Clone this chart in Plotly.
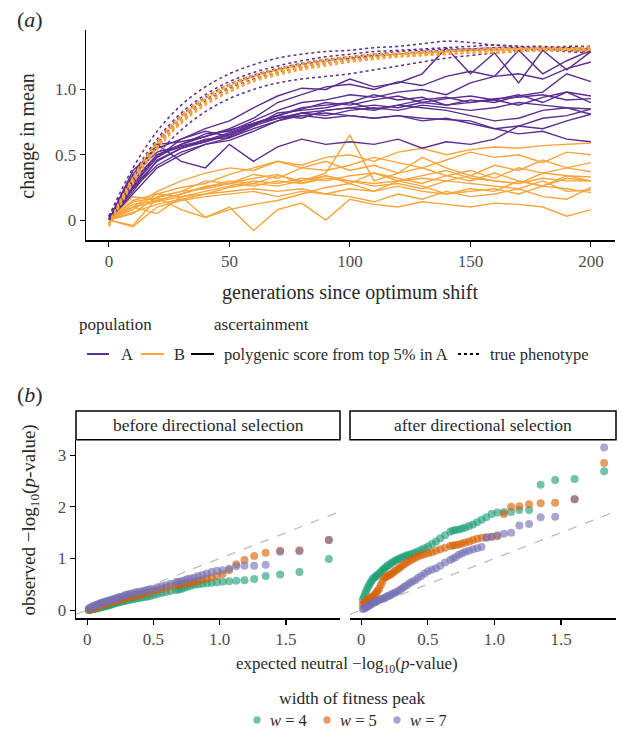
import plotly.graph_objects as go

# ---------------- panel (a) data ----------------
gens = [0, 10, 20, 30, 40, 50, 60, 70, 80, 90, 100, 110, 120, 130, 140, 150, 160, 170, 180, 190, 200]

# true phenotype, population A (dotted purple)
pheno_A = [
    [0.03, 0.40, 0.68, 0.88, 1.02, 1.12, 1.19, 1.24, 1.27, 1.29, 1.30, 1.32, 1.33, 1.35, 1.37, 1.36, 1.34, 1.33, 1.33, 1.32, 1.32],
    [0.03, 0.35, 0.62, 0.82, 0.96, 1.06, 1.13, 1.18, 1.22, 1.25, 1.27, 1.29, 1.30, 1.31, 1.32, 1.33, 1.34, 1.33, 1.32, 1.33, 1.33],
    [0.02, 0.30, 0.56, 0.76, 0.91, 1.01, 1.08, 1.13, 1.17, 1.20, 1.23, 1.25, 1.27, 1.28, 1.29, 1.30, 1.30, 1.31, 1.30, 1.31, 1.30],
    [0.01, 0.26, 0.50, 0.69, 0.83, 0.93, 1.00, 1.05, 1.08, 1.10, 1.12, 1.15, 1.18, 1.21, 1.24, 1.26, 1.28, 1.29, 1.30, 1.29, 1.28],
    [0.02, 0.33, 0.60, 0.80, 0.94, 1.04, 1.11, 1.16, 1.20, 1.23, 1.25, 1.27, 1.29, 1.30, 1.31, 1.31, 1.32, 1.32, 1.31, 1.30, 1.29],
    [0.03, 0.31, 0.58, 0.78, 0.92, 1.02, 1.10, 1.15, 1.19, 1.22, 1.24, 1.26, 1.27, 1.29, 1.30, 1.31, 1.31, 1.30, 1.31, 1.32, 1.31],
]
# true phenotype, population B (dotted orange)
pheno_B = [
    [-0.04, 0.32, 0.59, 0.79, 0.93, 1.03, 1.10, 1.15, 1.19, 1.22, 1.24, 1.26, 1.27, 1.28, 1.29, 1.30, 1.31, 1.31, 1.32, 1.32, 1.31],
    [-0.03, 0.30, 0.56, 0.76, 0.90, 1.00, 1.07, 1.13, 1.17, 1.20, 1.22, 1.24, 1.26, 1.27, 1.28, 1.29, 1.30, 1.31, 1.31, 1.31, 1.32],
    [-0.05, 0.28, 0.54, 0.74, 0.88, 0.98, 1.06, 1.11, 1.15, 1.18, 1.21, 1.23, 1.25, 1.26, 1.27, 1.28, 1.29, 1.30, 1.30, 1.30, 1.30],
    [-0.03, 0.31, 0.57, 0.78, 0.92, 1.02, 1.09, 1.14, 1.18, 1.21, 1.23, 1.25, 1.27, 1.28, 1.29, 1.31, 1.32, 1.32, 1.31, 1.30, 1.29],
    [-0.04, 0.29, 0.55, 0.75, 0.89, 0.99, 1.07, 1.12, 1.16, 1.19, 1.22, 1.24, 1.25, 1.26, 1.27, 1.28, 1.28, 1.29, 1.30, 1.31, 1.33],
    [-0.02, 0.33, 0.60, 0.80, 0.94, 1.04, 1.11, 1.16, 1.20, 1.23, 1.25, 1.27, 1.28, 1.29, 1.30, 1.30, 1.30, 1.31, 1.32, 1.31, 1.30],
]
# polygenic score from top 5% in A, population A (solid purple)
pgs_A = [
    [0, 0.38, 0.55, 0.62, 0.70, 0.76, 0.86, 0.95, 1.01, 1.00, 1.08, 1.02, 1.05, 1.12, 1.32, 1.12, 1.28, 1.05, 1.30, 1.15, 1.29],
    [0, 0.32, 0.58, 0.60, 0.64, 0.70, 0.78, 0.90, 0.96, 1.02, 1.04, 1.00, 1.06, 1.03, 1.10, 1.14, 1.10, 1.30, 1.12, 1.22, 1.30],
    [0, 0.30, 0.50, 0.58, 0.66, 0.68, 0.76, 0.84, 0.90, 0.92, 0.96, 0.94, 0.98, 1.00, 0.96, 1.05, 1.10, 1.12, 1.08, 1.16, 1.21],
    [0, 0.28, 0.48, 0.62, 0.68, 0.64, 0.74, 0.80, 0.86, 0.88, 0.90, 0.96, 0.92, 0.94, 0.88, 0.92, 0.90, 0.95, 0.98, 1.12, 1.06],
    [0, 0.25, 0.45, 0.55, 0.60, 0.66, 0.73, 0.80, 0.85, 0.90, 0.88, 0.92, 0.95, 0.90, 0.93, 0.95, 0.92, 0.96, 0.90, 0.98, 0.95],
    [0, 0.22, 0.46, 0.55, 0.62, 0.63, 0.72, 0.82, 0.84, 0.86, 0.90, 0.85, 0.88, 0.92, 0.94, 0.90, 0.93, 0.94, 0.96, 0.92, 0.93],
    [0, 0.35, 0.52, 0.57, 0.61, 0.67, 0.74, 0.78, 0.82, 0.84, 0.86, 0.88, 0.86, 0.90, 0.88, 0.90, 0.92, 0.88, 0.94, 0.98, 0.90],
    [0, 0.20, 0.40, 0.50, 0.58, 0.63, 0.70, 0.76, 0.82, 0.80, 0.84, 0.86, 0.84, 0.88, 0.86, 0.84, 0.86, 0.90, 0.88, 0.86, 0.85],
    [0, 0.26, 0.48, 0.58, 0.64, 0.69, 0.74, 0.80, 0.78, 0.84, 0.86, 0.84, 0.88, 0.86, 0.84, 0.80, 0.76, 0.78, 0.84, 0.86, 0.81],
    [0, 0.30, 0.50, 0.56, 0.60, 0.65, 0.72, 0.78, 0.80, 0.82, 0.80, 0.78, 0.80, 0.76, 0.78, 0.74, 0.70, 0.72, 0.78, 0.80, 0.85],
    [0, 0.24, 0.42, 0.52, 0.58, 0.61, 0.68, 0.76, 0.80, 0.78, 0.80, 0.78, 0.80, 0.78, 0.77, 0.76, 0.70, 0.66, 0.68, 0.62, 0.60],
    [0, 0.35, 0.58, 0.45, 0.40, 0.58, 0.45, 0.56, 0.62, 0.58, 0.60, 0.58, 0.62, 0.55, 0.60, 0.58, 0.62, 0.72, 0.70, 0.76, 0.81],
]
# polygenic score from top 5% in A, population B (solid orange)
pgs_B = [
    [0, 0.15, 0.20, 0.25, 0.28, 0.35, 0.40, 0.45, 0.42, 0.48, 0.50, 0.45, 0.52, 0.55, 0.50, 0.54, 0.56, 0.55, 0.57, 0.58, 0.59],
    [0, 0.10, 0.22, 0.30, 0.36, 0.40, 0.38, 0.45, 0.40, 0.38, 0.42, 0.48, 0.44, 0.40, 0.46, 0.52, 0.48, 0.50, 0.44, 0.52, 0.50],
    [0, 0.05, 0.18, 0.22, 0.30, 0.28, 0.35, 0.32, 0.40, 0.45, 0.38, 0.42, 0.36, 0.48, 0.40, 0.34, 0.42, 0.38, 0.46, 0.40, 0.44],
    [0, 0.12, 0.15, 0.20, 0.25, 0.30, 0.28, 0.34, 0.30, 0.36, 0.65, 0.30, 0.36, 0.40, 0.34, 0.38, 0.32, 0.40, 0.36, 0.40, 0.37],
    [0, 0.08, 0.20, 0.18, 0.22, 0.26, 0.30, 0.28, 0.32, 0.30, 0.34, 0.36, 0.30, 0.34, 0.38, 0.32, 0.30, 0.28, 0.36, 0.34, 0.33],
    [0, 0.14, 0.17, 0.22, 0.24, 0.28, 0.26, 0.30, 0.28, 0.32, 0.30, 0.28, 0.30, 0.32, 0.30, 0.34, 0.30, 0.28, 0.32, 0.30, 0.30],
    [0, 0.06, 0.12, 0.16, 0.20, 0.25, 0.28, 0.26, 0.30, 0.34, 0.28, 0.36, 0.32, 0.28, 0.34, 0.30, 0.36, 0.30, 0.26, 0.32, 0.30],
    [0, 0.18, 0.15, 0.20, 0.26, 0.28, 0.32, 0.35, 0.28, 0.34, 0.30, 0.26, 0.28, 0.24, 0.30, 0.28, 0.26, 0.24, 0.30, 0.22, 0.23],
    [0, 0.10, 0.14, 0.18, 0.20, 0.22, 0.24, 0.22, 0.24, 0.20, 0.24, 0.22, 0.26, 0.22, 0.20, 0.22, 0.24, 0.20, 0.26, 0.24, 0.21],
    [0, -0.05, 0.10, 0.15, 0.18, 0.20, 0.22, 0.18, 0.22, 0.20, 0.18, 0.14, 0.20, 0.16, 0.22, 0.18, 0.20, 0.24, 0.18, 0.16, 0.25],
    [0, -0.04, 0.17, 0.08, 0.02, 0.10, -0.08, 0.08, 0.13, 0.00, 0.16, 0.12, 0.10, 0.14, 0.12, 0.10, 0.13, 0.12, 0.10, 0.03, 0.08],
    [0, 0.10, 0.05, 0.18, 0.02, 0.08, 0.12, 0.15, 0.20, 0.25, 0.28, 0.22, 0.30, 0.26, 0.20, 0.24, 0.22, 0.30, 0.26, 0.34, 0.30],
]
a_xticks = [0, 50, 100, 150, 200]
a_yticks = [0, 0.5, 1.0]
a_yticktext = ["0", "0.5", "1.0"]

# ---------------- panel (b) data ----------------
expected_neutral = [
    1.824, 1.602, 1.456, 1.347, 1.260, 1.187, 1.125, 1.071, 1.022, 0.979,
    0.939, 0.903, 0.870, 0.839, 0.810, 0.782, 0.757, 0.733, 0.710, 0.688,
    0.668, 0.629, 0.593, 0.561, 0.530, 0.502, 0.475, 0.450, 0.426, 0.403,
    0.382, 0.361, 0.342, 0.323, 0.305, 0.288, 0.272, 0.256, 0.240, 0.225,
    0.211, 0.197, 0.184, 0.171, 0.158, 0.146, 0.134, 0.122, 0.111, 0.100,
    0.089, 0.078, 0.068, 0.058, 0.048, 0.039, 0.029, 0.020, 0.011]
before_w4 = [
    0.99, 0.74, 0.69, 0.66, 0.60, 0.58, 0.57, 0.56, 0.55, 0.54,
    0.53, 0.52, 0.51, 0.50, 0.49, 0.47, 0.45, 0.43, 0.41, 0.40,
    0.39, 0.37, 0.35, 0.33, 0.31, 0.29, 0.27, 0.26, 0.25, 0.24,
    0.23, 0.22, 0.21, 0.20, 0.19, 0.18, 0.17, 0.16, 0.15, 0.14,
    0.13, 0.12, 0.11, 0.10, 0.09, 0.08, 0.075, 0.07, 0.06, 0.05,
    0.045, 0.04, 0.03, 0.025, 0.02, 0.015, 0.01, 0.005, 0.0]
before_w5 = [
    1.36, 1.16, 1.15, 1.11, 1.05, 0.97, 0.89, 0.77, 0.70, 0.66,
    0.63, 0.61, 0.59, 0.57, 0.55, 0.53, 0.52, 0.51, 0.50, 0.49,
    0.48, 0.46, 0.43, 0.41, 0.39, 0.37, 0.35, 0.33, 0.32, 0.30,
    0.29, 0.28, 0.27, 0.26, 0.25, 0.24, 0.22, 0.21, 0.20, 0.19,
    0.18, 0.17, 0.16, 0.15, 0.14, 0.13, 0.12, 0.11, 0.10, 0.09,
    0.08, 0.07, 0.06, 0.05, 0.04, 0.03, 0.02, 0.01, 0.00]
before_w7 = [
    1.36, 1.14, 1.13, 0.88, 0.86, 0.86, 0.85, 0.80, 0.77, 0.76,
    0.74, 0.71, 0.68, 0.66, 0.63, 0.61, 0.60, 0.58, 0.56, 0.55,
    0.54, 0.51, 0.48, 0.46, 0.44, 0.41, 0.40, 0.39, 0.37, 0.36,
    0.35, 0.34, 0.32, 0.31, 0.30, 0.29, 0.27, 0.26, 0.25, 0.24,
    0.22, 0.21, 0.20, 0.19, 0.18, 0.17, 0.16, 0.15, 0.14, 0.13,
    0.12, 0.11, 0.10, 0.09, 0.08, 0.07, 0.05, 0.04, 0.03]
after_w4 = [
    2.69, 2.54, 2.52, 2.43, 1.94, 1.94, 1.90, 1.90, 1.89, 1.86,
    1.80, 1.75, 1.70, 1.66, 1.63, 1.60, 1.58, 1.56, 1.55, 1.54,
    1.52, 1.45, 1.39, 1.33, 1.28, 1.23, 1.20, 1.17, 1.14, 1.11,
    1.09, 1.07, 1.06, 1.04, 1.02, 1.00, 0.98, 0.96, 0.93, 0.91,
    0.88, 0.86, 0.83, 0.80, 0.77, 0.74, 0.71, 0.68, 0.66, 0.63,
    0.61, 0.57, 0.53, 0.48, 0.43, 0.38, 0.32, 0.26, 0.20]
after_w5 = [
    2.85, 2.15, 2.08, 2.07, 2.05, 2.01, 2.00, 1.86, 1.43, 1.42,
    1.41, 1.40, 1.38, 1.36, 1.33, 1.31, 1.29, 1.27, 1.26, 1.25,
    1.24, 1.21, 1.18, 1.15, 1.12, 1.10, 1.08, 1.06, 1.04, 1.01,
    0.98, 0.95, 0.92, 0.89, 0.86, 0.82, 0.79, 0.76, 0.73, 0.70,
    0.68, 0.66, 0.64, 0.62, 0.55, 0.48, 0.42, 0.37, 0.33, 0.30,
    0.27, 0.25, 0.23, 0.21, 0.19, 0.17, 0.15, 0.13, 0.11]
after_w7 = [
    3.15, 2.15, 1.81, 1.80, 1.67, 1.64, 1.50, 1.48, 1.45, 1.42,
    1.40, 1.22, 1.20, 1.18, 1.15, 1.13, 1.10, 1.07, 1.03, 1.00,
    0.97, 0.92, 0.86, 0.81, 0.78, 0.75, 0.71, 0.66, 0.62, 0.58,
    0.55, 0.52, 0.48, 0.45, 0.42, 0.39, 0.36, 0.34, 0.32, 0.30,
    0.28, 0.27, 0.25, 0.23, 0.22, 0.21, 0.20, 0.18, 0.16, 0.15,
    0.14, 0.12, 0.10, 0.09, 0.07, 0.06, 0.04, 0.03, 0.02]
b_xticks = [0, 0.5, 1.0, 1.5]
b_xticktext = ["0", "0.5", "1.0", "1.5"]
b_yticks = [0, 1, 2, 3]
facet_labels = ["before directional selection", "after directional selection"]
w_labels = ["<i>w</i> = 4", "<i>w</i> = 5", "<i>w</i> = 7"]

# ---------------- styling ----------------
W, H = 622, 733
PURPLE = "#5c2d91"
ORANGE = "#f9a53b"
W_COLORS = ["rgba(27,158,119,0.62)", "rgba(217,95,2,0.62)", "rgba(117,112,179,0.62)"]
FONT = "Liberation Serif, Times New Roman, serif"
TICK_C = "#4d4d4d"
TITLE_C = "#2a2a2a"


def px(x):
    return x / W


def py(y):
    return 1 - y / H


fig = go.Figure()

# panel (a) traces
for ys in pgs_B:
    fig.add_trace(go.Scatter(x=gens, y=ys, mode="lines", line=dict(color=ORANGE, width=1.4),
                             xaxis="x", yaxis="y", hoverinfo="skip"))
for ys in pgs_A:
    fig.add_trace(go.Scatter(x=gens, y=ys, mode="lines", line=dict(color=PURPLE, width=1.4),
                             xaxis="x", yaxis="y", hoverinfo="skip"))
for ys in pheno_A:
    fig.add_trace(go.Scatter(x=gens, y=ys, mode="lines", line=dict(color=PURPLE, width=1.5, dash="dot"),
                             line_shape="spline", xaxis="x", yaxis="y", hoverinfo="skip"))
for ys in pheno_B:
    fig.add_trace(go.Scatter(x=gens, y=ys, mode="lines", line=dict(color=ORANGE, width=1.8, dash="dot"),
                             line_shape="spline", xaxis="x", yaxis="y", hoverinfo="skip"))

# panel (b) traces
for (xa, ya), series in zip([("x2", "y2"), ("x3", "y3")],
                            [(before_w4, before_w5, before_w7), (after_w4, after_w5, after_w7)]):
    for ys, col in zip(series, W_COLORS):
        fig.add_trace(go.Scatter(x=expected_neutral, y=ys, mode="markers",
                                 marker=dict(color=col, size=8, line=dict(width=0)),
                                 xaxis=xa, yaxis=ya, hoverinfo="skip"))

axis_common = dict(showline=True, linecolor="black", linewidth=1.3, ticks="outside", ticklen=5,
                   tickwidth=1.1, tickcolor="black", showgrid=False, zeroline=False,
                   tickfont=dict(family=FONT, size=17, color=TICK_C))

fig.update_layout(
    width=W, height=H, margin=dict(l=0, r=0, t=0, b=0),
    paper_bgcolor="white", plot_bgcolor="white", showlegend=False,
    font=dict(family=FONT, color=TITLE_C),
    xaxis=dict(domain=[px(86), px(615)], anchor="y", range=[-9.5, 210], tickvals=a_xticks, **axis_common),
    yaxis=dict(domain=[py(241), py(30)], anchor="x", range=[-0.155, 1.456], tickvals=a_yticks,
               ticktext=a_yticktext, **axis_common),
    xaxis2=dict(domain=[px(76), px(340)], anchor="y2", range=[-0.085, 1.908], tickvals=b_xticks,
                ticktext=b_xticktext, **axis_common),
    yaxis2=dict(domain=[py(620), py(441)], anchor="x2", range=[-0.16, 3.30], tickvals=b_yticks, **axis_common),
    xaxis3=dict(domain=[px(350), px(616)], anchor="y3", range=[-0.085, 1.913], tickvals=b_xticks,
                ticktext=b_xticktext, **axis_common),
    yaxis3=dict(domain=[py(620), py(441)], anchor="x3", range=[-0.16, 3.30], matches="y2",
                showline=False, ticks="", showticklabels=False, showgrid=False, zeroline=False),
)

shapes = []
# y = x reference lines
for xa, ya in [("x2", "y2"), ("x3", "y3")]:
    shapes.append(dict(type="line", xref=xa, yref=ya, x0=-0.085, y0=-0.085, x1=1.91, y1=1.91,
                       line=dict(color="#bdbdbd", width=1.3, dash="dash"), layer="below"))
# strips
for x0, x1 in [(76, 340), (350, 616)]:
    shapes.append(dict(type="rect", xref="paper", yref="paper", x0=px(x0), x1=px(x1), y0=py(441), y1=py(412),
                       line=dict(color="black", width=1.5), fillcolor="white"))

annotations = []


def txt(text, x, y, size, xanchor="center", color=TITLE_C, angle=0):
    annotations.append(dict(text=text, x=px(x), y=py(y), xref="paper", yref="paper", showarrow=False,
                            xanchor=xanchor, yanchor="middle", textangle=angle,
                            font=dict(family=FONT, size=size, color=color)))


for lbl, (x0, x1) in zip(facet_labels, [(76, 340), (350, 616)]):
    txt(lbl, (x0 + x1) / 2, 426, 17.5)

txt("(<i>a</i>)", 15, 20, 22, xanchor="left")
txt("(<i>b</i>)", 15, 396, 22, xanchor="left")
txt("change in mean", 28, 136, 20, angle=-90)
txt("generations since optimum shift", 350, 293, 20)
txt("observed −log<sub>10</sub>(<i>p</i>-value)", 30, 522, 19, angle=-90)
txt("expected neutral −log<sub>10</sub>(<i>p</i>-value)", 347, 667, 17)

# legend (a)
txt("population", 77, 325, 17, xanchor="left")
txt("ascertainment", 212, 325, 17, xanchor="left")
leg_y = 355
for (x0, x1), col, dash in [((87, 109), PURPLE, "solid"), ((141, 164), ORANGE, "solid"),
                            ((191, 214), "black", "solid"), ((458, 480), "black", "dot")]:
    shapes.append(dict(type="line", xref="paper", yref="paper", x0=px(x0), x1=px(x1), y0=py(leg_y), y1=py(leg_y),
                       line=dict(color=col, width=2, dash=dash)))
txt("A", 119, leg_y, 16.5, xanchor="left")
txt("B", 172, leg_y, 16.5, xanchor="left")
txt("polygenic score from top 5% in A", 222, leg_y, 16.5, xanchor="left")
txt("true phenotype", 488, leg_y, 16.5, xanchor="left")

# legend (b)
txt("width of fitness peak", 352, 700, 17.5)
for cx, col, lbl in zip([257, 327, 397], W_COLORS, w_labels):
    shapes.append(dict(type="circle", xref="paper", yref="paper", x0=px(cx - 3.7), x1=px(cx + 3.7),
                       y0=py(722 + 3.7), y1=py(722 - 3.7), fillcolor=col, line=dict(width=0)))
    txt(lbl, cx + 11, 722, 16.5, xanchor="left")

fig.update_layout(shapes=shapes, annotations=annotations)
# remove the browser's default 8px page margin so the figure sits at the window's corner
fig.write_html("out.html", config={"displayModeBar": False, "staticPlot": True},
               post_script="document.body.style.margin='0';document.body.style.overflow='hidden';")
